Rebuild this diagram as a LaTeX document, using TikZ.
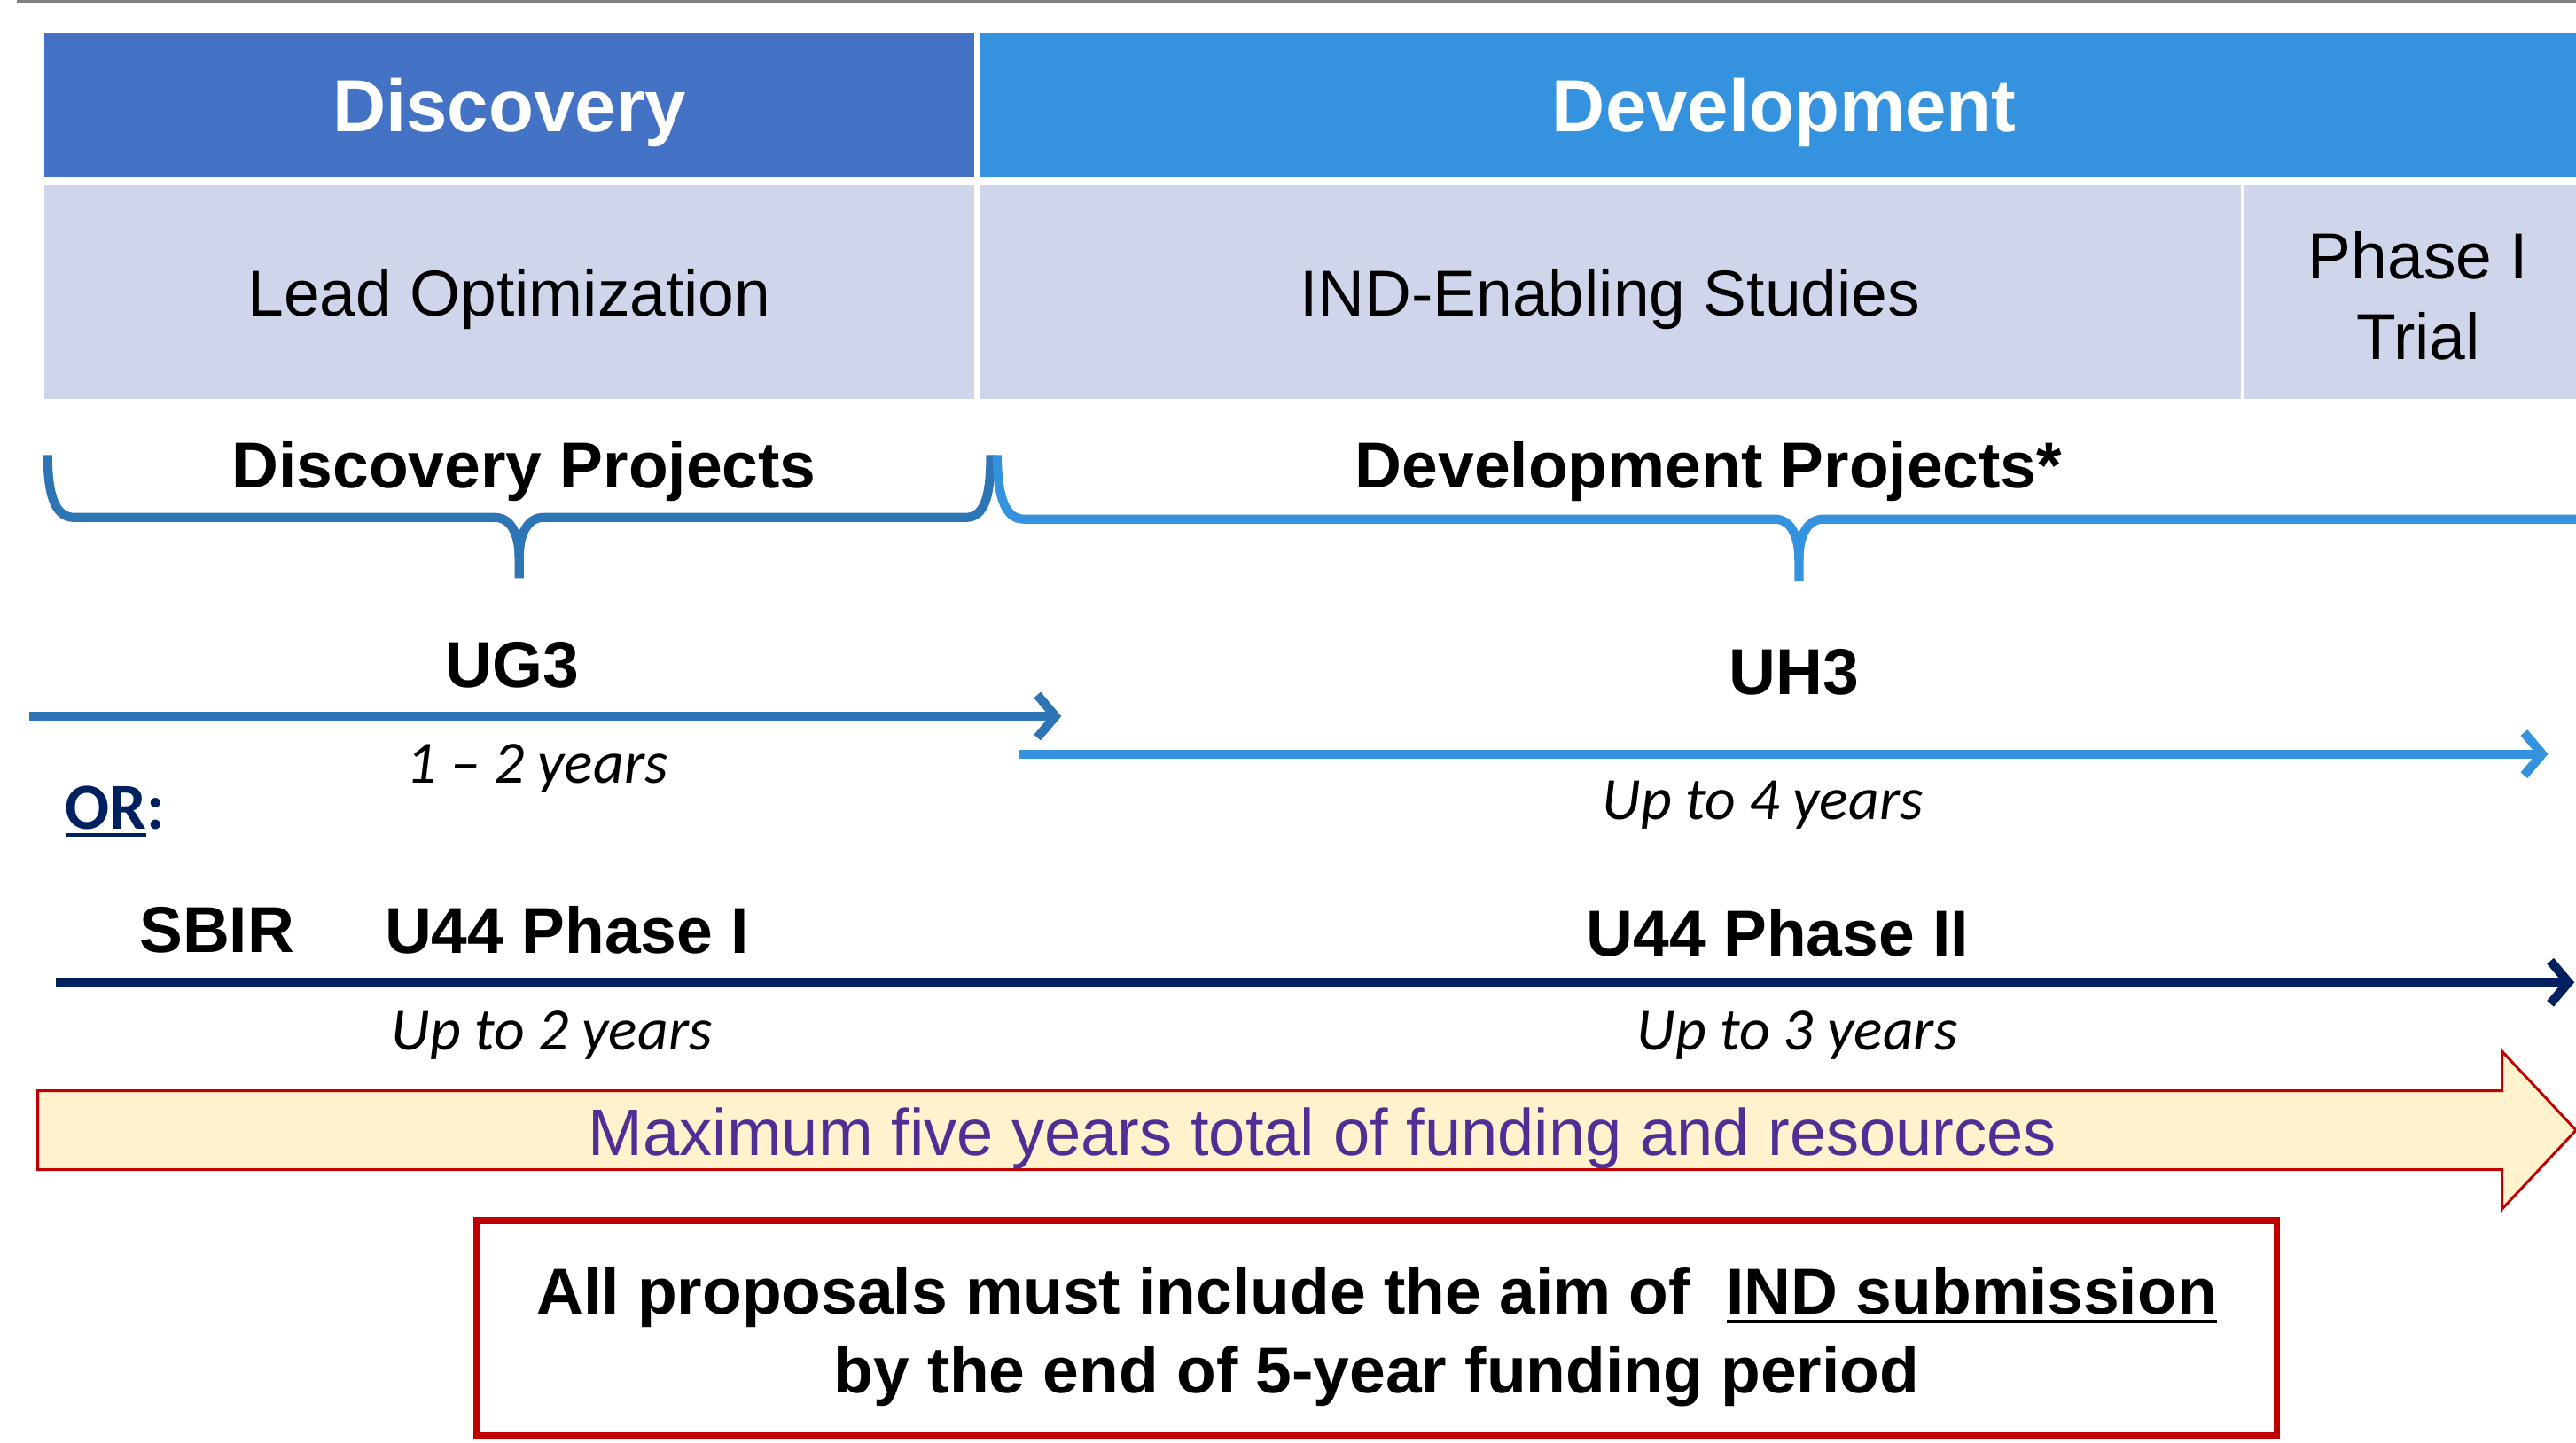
\documentclass[tikz,border=0pt]{standalone}
\usepackage{fontspec}
\setmainfont{Liberation Sans}
\newfontfamily\calfont{Carlito}
\usetikzlibrary{arrows.meta}
\definecolor{discblue}{HTML}{4472C4}
\definecolor{devblue}{HTML}{3592DF}
\definecolor{rowblue}{HTML}{CFD5EA}
\definecolor{braceA}{HTML}{2E75B6}
\definecolor{braceB}{HTML}{3592DE}
\definecolor{navy}{HTML}{002060}
\definecolor{cream}{HTML}{FFF2CC}
\definecolor{darkred}{HTML}{C00000}
\definecolor{purp}{HTML}{4F2F96}
\definecolor{topgray}{HTML}{808080}
\newcommand\fsz[2]{\fontsize{#1}{#2}\selectfont}
\newsavebox\ulbox
\newcommand\myul[2][-6pt]{\leavevmode\sbox\ulbox{#2}\rlap{\rule[#1]{\wd\ulbox}{2.5pt}}\usebox\ulbox}
\tikzset{
  hdrbox/.style={inner sep=0, minimum height=88, text=white, text depth=0pt, font=\bfseries\fsz{45}{54}},
  cellbox/.style={inner sep=0, minimum height=130, fill=rowblue, font=\fsz{39.5}{49}, align=center},
  boldlbl/.style={inner sep=0, font=\bfseries\fsz{39.5}{48}},
  yrs/.style={inner sep=0, font=\calfont\itshape\fsz{36.5}{44}},
  bracepath/.style={line width=5.5, line join=round},
  timearrow/.style={line width=5.5, -{Straight Barb[length=11pt, width=26pt]}}
}
\begin{document}
\begin{tikzpicture}[x=1pt, y=-1pt]
\path[use as bounding box] (0,0) rectangle (1568,878);

% top gray rule
\coordinate (tl) at (10,0.8);
\coordinate (tr) at (1568,0.8);
\draw[topgray, line width=1.6] (tl) -- (tr);

% header row
\node[hdrbox, fill=discblue, minimum width=566] (disc) at (310,64) {Discovery};
\node[hdrbox, fill=devblue, minimum width=980] (dev) at (1086,64) {Development};

% second row
\node[cellbox, minimum width=566, text depth=0pt] (lead) at (310,178) {Lead Optimization};
\node[cellbox, minimum width=768, text depth=0pt] (ind) at (980,178) {IND-Enabling Studies};
\node[cellbox, minimum width=212] (ph1) at (1472,178) {\rule{0pt}{33pt}Phase I\\Trial};

% braces
\draw[bracepath, braceA] (29,277) .. controls (29,300) and (33,315) .. (45,315) -- (301,315)
  .. controls (311,315) and (316,325) .. (316,340) -- (316,352);
\draw[bracepath, braceA] (316,340) .. controls (316,325) and (321,315) .. (331,315) -- (588,315)
  .. controls (600,315) and (603,300) .. (603,277);
\draw[bracepath, braceB] (607,277) .. controls (607,300) and (611,316) .. (623,316) -- (1080,316)
  .. controls (1090,316) and (1095,326) .. (1095,341) -- (1095,354);
\draw[bracepath, braceB] (1095,341) .. controls (1095,326) and (1100,316) .. (1110,316) -- (1580,316);

\node[boldlbl] (dproj) at (319,287) {Discovery Projects};
\node[boldlbl] (devproj) at (1040,287) {Development Projects*};

% UG3 / UH3
\node[boldlbl] (ug3) at (312,405) {UG3};
\node[boldlbl] (uh3) at (1092,409) {UH3};
\coordinate (ug3s) at (18,436);
\coordinate (ug3e) at (646,436);
\draw[timearrow, braceA] (ug3s) -- (ug3e);
\coordinate (uh3s) at (620,459);
\coordinate (uh3e) at (1551,459);
\draw[timearrow, braceB] (uh3s) -- (uh3e);
\node[yrs] (y12) at (327,468) {1 – 2 years};
\node[yrs] (y4) at (1073,490) {Up to 4 years};

\node[inner sep=0, text=navy, font=\calfont\bfseries\fsz{40}{48}] (or) at (70,494) {\myul[-5pt]{OR}:};

% SBIR / U44
\node[boldlbl] (sbir) at (132,566) {SBIR};
\node[boldlbl, anchor=west] (u44a) at (234,566) {U44 Phase I};
\node[boldlbl] (u44b) at (1082,568) {U44 Phase II};
\coordinate (navs) at (34,598);
\coordinate (nave) at (1567,598);
\draw[timearrow, navy] (navs) -- (nave);
\node[yrs] (y2) at (336,630) {Up to 2 years};
\node[yrs] (y3) at (1094,630) {Up to 3 years};

% big arrow
\draw[darkred, fill=cream, line width=1.6, line join=miter]
  (23,664) -- (1523,664) -- (1523,640) -- (1568,688) -- (1523,736) -- (1523,712) -- (23,712) -- cycle;
\node[inner sep=0, text=purp, font=\fsz{40}{48}] (maxi) at (805,693) {Maximum five years total of funding and resources};

% requirement box
\node[draw=darkred, line width=4, fill=white, minimum width=1096, minimum height=131,
      inner sep=0, align=center, font=\bfseries\fsz{39.5}{48}] (req) at (838,808.5)
  {\rule{0pt}{39pt}All proposals must include the aim of\ \ \myul{IND submission}\\by the end of 5-year funding period};
\end{tikzpicture}
\end{document}
